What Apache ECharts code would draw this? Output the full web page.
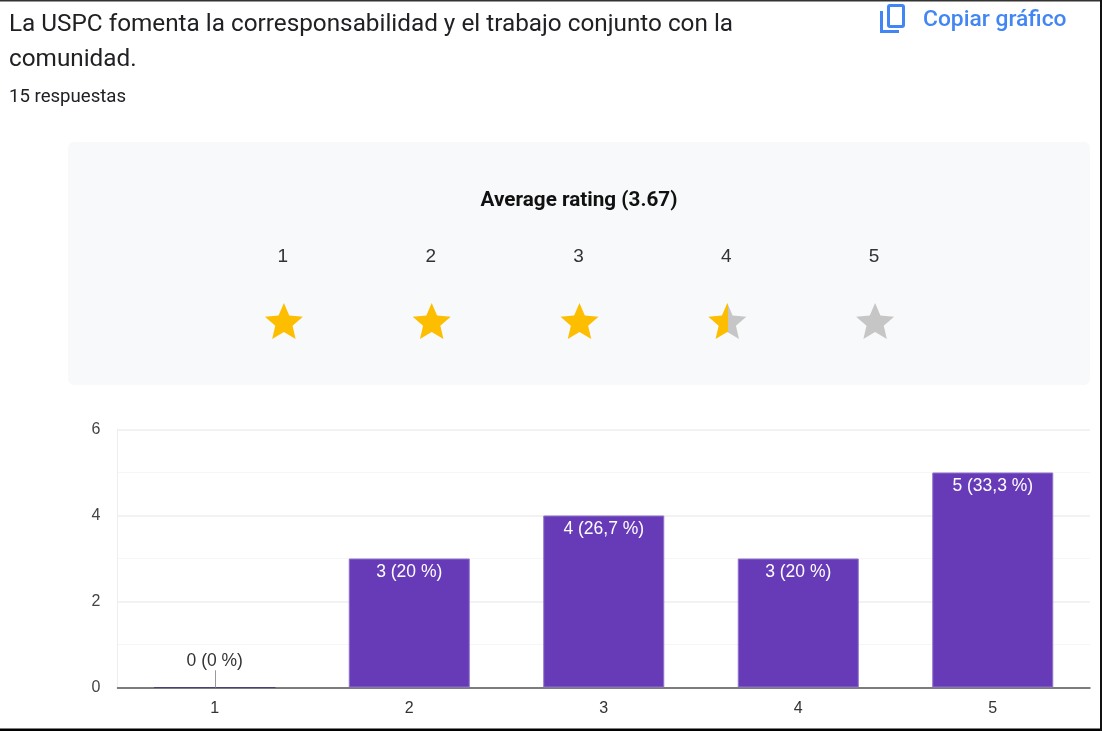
<!DOCTYPE html>
<html>
<head>
<meta charset="utf-8">
<script src="https://cdn.jsdelivr.net/npm/echarts@6/dist/echarts.min.js"></script>
<style>html,body{margin:0;padding:0;background:#fff}#c{width:1102px;height:731px}</style>
</head>
<body>
<div id="c"></div>
<script>
const questionLines = ['La USPC fomenta la corresponsabilidad y el trabajo conjunto con la', 'comunidad.'];
const responsesText = '15 respuestas';
const copyText = 'Copiar gráfico';
const ratingTitle = 'Average rating (3.67)';
const categories = ['1', '2', '3', '4', '5'];
const counts = [0, 3, 4, 3, 5];
const percentLabels = ['0 (0 %)', '3 (20 %)', '4 (26,7 %)', '3 (20 %)', '5 (33,3 %)'];
const starFill = [1, 1, 1, 0.52, 0];

const STAR = 'path://M12 17.27L18.18 21l-1.64-7.03L22 9.24l-7.19-.61L12 2 9.19 8.63 2 9.24l5.46 4.73L5.82 21z';
const GOLD = '#fdbd00', GREY = '#c6c6c6', BLUE = '#4285f4';

const chart = echarts.init(document.getElementById('c'), null, {renderer: 'canvas'});
chart.setOption({
  animation: false,
  backgroundColor: '#fff',
  title: [
    {text: questionLines.join('\n'), left: 9, top: 7, padding: 0,
      textStyle: {fontFamily: 'Roboto', fontSize: 24.3, fontWeight: 400, color: '#202124', lineHeight: 35}},
    {text: responsesText, left: 9, top: 88, padding: 0,
      textStyle: {fontFamily: 'Roboto', fontSize: 18.6, fontWeight: 400, color: '#202124', lineHeight: 18}},
    {text: copyText, left: 923, top: 8, padding: 0,
      textStyle: {fontFamily: 'Roboto', fontSize: 22.8, fontWeight: 500, color: BLUE, lineHeight: 24}},
    {text: ratingTitle, left: 579, top: 190, padding: 0, textAlign: 'center',
      textStyle: {fontFamily: 'Roboto', fontSize: 20.7, fontWeight: 700, color: '#111', lineHeight: 22}}
  ],
  graphic: [
    {type: 'rect', z: -10, shape: {x: 68, y: 142, width: 1022, height: 243, r: 6}, style: {fill: '#f8f9fa'}},
    {type: 'rect', shape: {x: 888.5, y: 5.5, width: 15, height: 21, r: 1.5}, style: {fill: 'none', stroke: BLUE, lineWidth: 3}},
    {type: 'polyline', shape: {points: [[881.5, 11], [881.5, 31.5], [899, 31.5]]}, style: {fill: 'none', stroke: BLUE, lineWidth: 3}},
    {type: 'rect', z: 100, shape: {x: 0, y: 0, width: 1102, height: 1.5}, style: {fill: '#333'}},
    {type: 'rect', z: 100, shape: {x: 0, y: 728.5, width: 1102, height: 2.5}, style: {fill: '#000'}},
    {type: 'rect', z: 100, shape: {x: 1100, y: 0, width: 2, height: 731}, style: {fill: '#111'}}
  ],
  grid: [
    {left: 117.5, right: 12, top: 429.5, height: 258},
    {left: 209, width: 739, top: 291, height: 60}
  ],
  xAxis: [
    {type: 'category', gridIndex: 0, data: categories,
      axisTick: {show: false},
      axisLine: {lineStyle: {color: '#555', width: 1.5}},
      axisLabel: {fontFamily: 'Liberation Sans', fontSize: 16, color: '#333', margin: 13}},
    {type: 'category', gridIndex: 1, data: categories, position: 'top',
      axisTick: {show: false}, axisLine: {show: false},
      axisLabel: {fontFamily: 'Liberation Sans', fontSize: 19, color: '#333', margin: 25}}
  ],
  yAxis: [
    {type: 'value', gridIndex: 0, min: 0, max: 6, interval: 2,
      axisLine: {show: true, lineStyle: {color: '#eeeeee'}},
      axisTick: {show: false},
      axisLabel: {fontFamily: 'Liberation Sans', fontSize: 16, color: '#444', margin: 17},
      splitLine: {lineStyle: {color: '#eeeeee', width: 1.5}},
      minorTick: {show: false, splitNumber: 2},
      minorSplitLine: {show: true, lineStyle: {color: '#f6f6f6'}}},
    {type: 'value', gridIndex: 1, min: 0, max: 1, show: false}
  ],
  series: [
    {type: 'bar', xAxisIndex: 0, yAxisIndex: 0, barWidth: 121,
      data: counts.map((v, i) => ({
        value: v,
        itemStyle: v === 0 ? {borderColor: '#4c3f74'} : undefined,
        label: {
          show: true,
          formatter: percentLabels[i],
          position: v === 0 ? 'top' : 'insideTop',
          distance: v === 0 ? 17 : 5,
          color: v === 0 ? '#333' : '#fff',
          fontFamily: 'Liberation Sans', fontSize: 17.5
        }
      })),
      itemStyle: {color: '#673ab7', borderColor: '#8f72c9', borderWidth: 1},
      markLine: {silent: true, symbol: 'none', label: {show: false},
        lineStyle: {color: '#999', width: 1, type: 'solid'},
        data: [[{coord: [categories[0], 0]}, {coord: [categories[0], 0.4]}]]}
    },
    {type: 'scatter', xAxisIndex: 1, yAxisIndex: 1, symbol: STAR, symbolSize: [38, 36], symbolOffset: [1, 0],
      data: starFill.map((f, i) => ({
        value: [categories[i], 0.5],
        itemStyle: {
          color: new echarts.graphic.LinearGradient(0, 0, 1, 0, [
            {offset: 0, color: f > 0 ? GOLD : GREY},
            {offset: f, color: f > 0 ? GOLD : GREY},
            {offset: f, color: f < 1 ? GREY : GOLD},
            {offset: 1, color: f < 1 ? GREY : GOLD}
          ]),
          opacity: 1
        }
      }))
    }
  ]
});
</script>
</body>
</html>
